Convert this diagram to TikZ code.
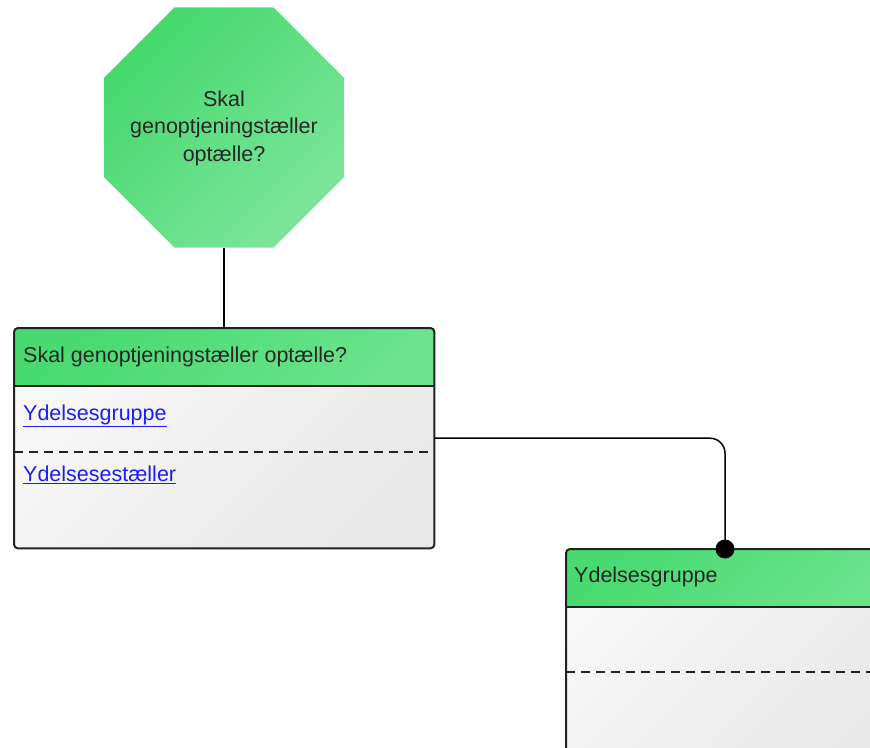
\documentclass[tikz,border=0pt]{standalone}
\usepackage{fontspec}
\setmainfont{Liberation Sans}
\usetikzlibrary{shapes.geometric}
\definecolor{gdark}{RGB}{70,216,110}
\definecolor{glight}{RGB}{124,229,154}
\definecolor{hdark}{RGB}{72,218,112}
\definecolor{hlight}{RGB}{106,227,140}
\definecolor{bdark}{RGB}{232,232,232}
\definecolor{blight}{RGB}{248,248,248}
\definecolor{edge}{RGB}{34,34,34}
\definecolor{linkblue}{RGB}{30,30,240}
\tikzset{
  octa/.style={regular polygon, regular polygon sides=8, minimum size=259.8pt, inner sep=0pt, outer sep=0pt,
    top color=gdark, bottom color=glight, shading angle=45},
  octlabel/.style={align=center, inner sep=0pt, text=black!85,
    font=\fontsize{21.5}{27.5}\selectfont},
  entity/.style={rectangle, minimum width=#1, anchor=north west, inner sep=0pt,
    top color=blight, bottom color=bdark, shading angle=45},
  headfill/.style={top color=hdark, bottom color=hlight, shading angle=45},
  boxedge/.style={draw=edge, line width=2pt},
  title/.style={anchor=base west, inner sep=0pt, font=\fontsize{21.5}{25}\selectfont, text=black!85},
  linktext/.style={anchor=base west, inner sep=0pt, font=\fontsize{21.5}{25}\selectfont, text=linkblue},
  sep/.style={draw=edge, line width=1.5pt, dash pattern=on 9pt off 6pt},
  conn/.style={draw=black, line width=1.5pt},
}
\begin{document}
\begin{tikzpicture}[x=1pt,y=-1pt]
\useasboundingbox (0,0) rectangle (870,747);
% octagon
\node[octa] (oct) at (224,127.5) {};
\node[octlabel] (octtext) at (224,128) {Skal\\genoptjeningstæller\\optælle?};
% entity 1
\node[entity=420pt, minimum height=220pt, rounded corners=4pt] (e1) at (14,328) {};
\path[headfill] (14,386) {[rounded corners=4pt] -- (14,328) -- (434,328)} -- (434,386) -- cycle;
\draw[boxedge, rounded corners=4pt] (e1.north west) rectangle (e1.south east);
\draw[edge, line width=1.5pt] (14,386) -- (434,386);
\draw[sep] (14,452) -- (434,452);
\node[title] (t1) at (23,362) {Skal genoptjeningstæller optælle?};
\node[linktext] (l1) at (23,420.5) {\underline{Ydelsesgruppe}};
\node[linktext] (l2) at (23,481.5) {\underline{Ydelsesestæller}};
% entity 2
\node[entity=330pt, minimum height=230pt, rounded corners=4pt] (e2) at (566,549) {};
\path[headfill] (566,607) {[rounded corners=4pt] -- (566,549) -- (896,549)} -- (896,607) -- cycle;
\draw[boxedge, rounded corners=4pt] (e2.north west) rectangle (e2.south east);
\draw[edge, line width=1.5pt] (566,607) -- (896,607);
\draw[sep] (566,672) -- (896,672);
\node[title] (t2) at (574,582) {Ydelsesgruppe};
% connectors
\draw[conn] (oct.south) -- (e1.north -| oct.south);
\coordinate (dot) at (725,549);
\draw[conn, rounded corners=15pt] (e1.east) -| (dot);
\fill[black] (dot) circle (9.5);
\end{tikzpicture}
\end{document}
